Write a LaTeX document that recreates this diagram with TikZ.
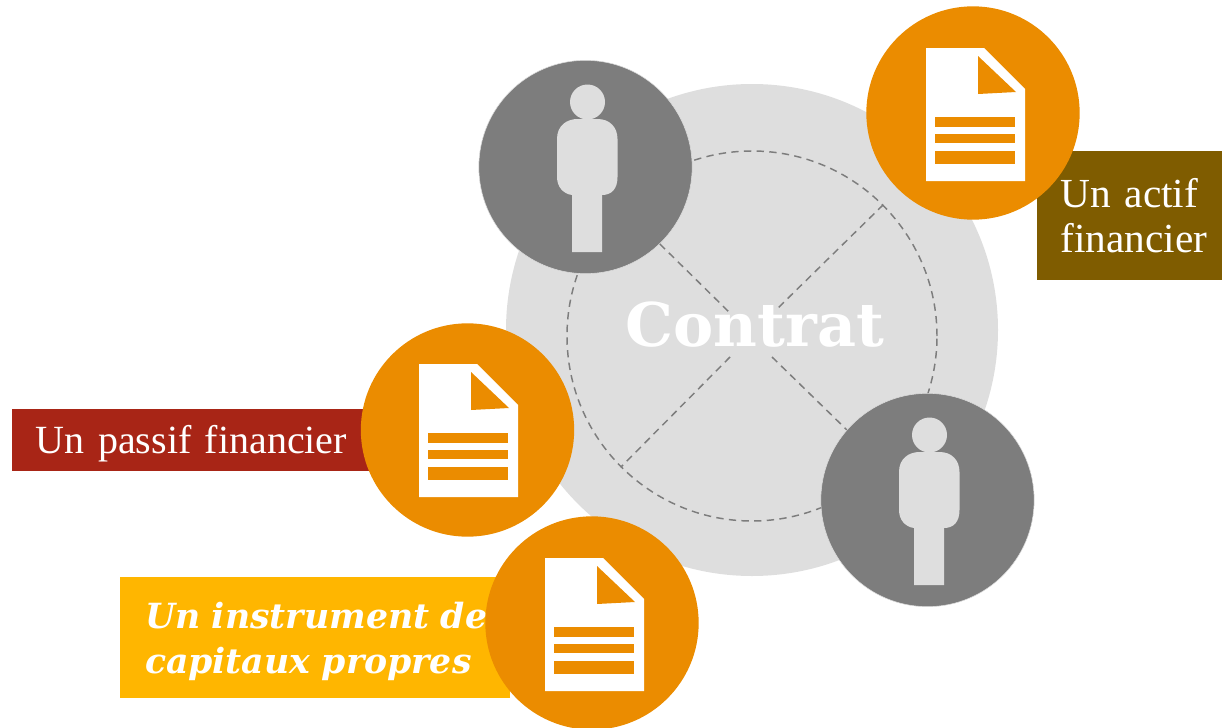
\documentclass[tikz,border=0pt]{standalone}
\usepackage{fontspec}
\setmainfont[WordSpace=0.75]{Liberation Serif}
\newfontfamily\contratfont{DejaVu Serif}
\usepackage{tikz}
\usetikzlibrary{positioning}

\definecolor{paleGrey}{HTML}{DEDEDE}
\definecolor{midGrey}{HTML}{7D7D7D}
\definecolor{docOrange}{HTML}{EB8C00}
\definecolor{actifBrown}{HTML}{7F5C00}
\definecolor{passifRed}{HTML}{A82516}
\definecolor{capitauxYellow}{HTML}{FFB600}

\tikzset{
    docicon/.pic={
        \fill[white] (-47,-65) -- (11,-65) -- (52,-24) -- (52,68) -- (-47,68) -- cycle;
        \fill[docOrange] (5,-57) -- (43,-21) -- (5,-19) -- cycle;
        \fill[docOrange] (-38,4) rectangle (42,14);
        \fill[docOrange] (-38,21) rectangle (42,30);
        \fill[docOrange] (-38,38) rectangle (42,51);
    },
    personicon/.pic={
        \fill[paleGrey] (2,-65) circle (17.5);
        \fill[paleGrey] (-28.5,-28) .. controls (-28.5,-42) and (-18,-48) .. (-8,-48)
            -- (12,-48) .. controls (24,-48) and (32,-40) .. (32,-28)
            -- (32,10) .. controls (32,22) and (26,28) .. (16.5,28)
            -- (16.5,85) -- (-13.5,85) -- (-13.5,28)
            .. controls (-22,27) and (-28.5,20) .. (-28.5,10) -- cycle;
    }
}

\begin{document}
\begin{tikzpicture}[
    x=0.75pt,
    y=-0.75pt,
    disc/.style={circle, inner sep=0pt, minimum size=160pt},
    docdisc/.style={disc, fill=docOrange},
    persondisc/.style={disc, fill=midGrey, draw=paleGrey, line width=0.4pt},
    labelbox/.style={rectangle, inner sep=0pt, text=white, align=left, font=\fontsize{31}{34}\selectfont},
    dashline/.style={midGrey, line width=1.1pt, dash pattern=on 5.5pt off 4pt}
]
\useasboundingbox (0,0) rectangle (1222,728);

% Background
\node[circle, fill=paleGrey, inner sep=0pt, minimum size=369pt] (contract) at (752,330) {};
\node[circle, draw, dashline, inner sep=0pt, minimum size=277.5pt] (ring) at (752,336) {};
\coordinate (gapNW) at (730,313);
\coordinate (gapNE) at (777,309);
\coordinate (gapSW) at (730,357);
\coordinate (gapSE) at (772,357);

% Labels
\node[labelbox, fill=actifBrown, minimum width=138.75pt, minimum height=96.75pt, text width=121.5pt] (actif) at (1129.5,215.5) {\hspace*{9pt}Un actif\\\hspace*{9pt}financier};
\node[labelbox, fill=passifRed, minimum width=270pt, minimum height=46.5pt, text width=252pt, font=\fontsize{30}{34}\selectfont] (passif) at (192,440) {\rule{0pt}{26pt}\hspace*{9pt}Un passif financier};
\node[labelbox, fill=capitauxYellow, minimum width=292.5pt, minimum height=90.75pt, text width=273pt, font=\contratfont\fontsize{26}{34}\selectfont\bfseries\itshape] (capitaux) at (315,637.5) {\rule{0pt}{26pt}\hspace*{9pt}Un instrument de\\\hspace*{9pt}capitaux propres};

% Discs
\node[persondisc] (personA) at (585.5,167) {};
\node[persondisc] (personB) at (927.5,500) {};
\node[docdisc] (docActif) at (973,113) {};
\node[docdisc] (docPassif) at (467.5,430) {};
\node[docdisc] (docCapitaux) at (592,623) {};

% Dashed cross
\draw[dashline] (personA.-46) -- (gapNW);
\draw[dashline] (ring.45) -- (gapNE);
\draw[dashline] (gapSW) -- (ring.225);
\draw[dashline] (gapSE) -- (personB.139);

% Icons
\pic at (personA) {personicon};
\pic at (personB) {personicon};
\pic at (docActif) {docicon};
\pic at ([shift={(-1.5,-1)}]docPassif) {docicon};
\pic at (docCapitaux) {docicon};

\node[text=white, inner sep=0pt, font=\contratfont\fontsize{45.2}{50}\selectfont\bfseries] (title) at (755,325) {Contrat};
\end{tikzpicture}
\end{document}
